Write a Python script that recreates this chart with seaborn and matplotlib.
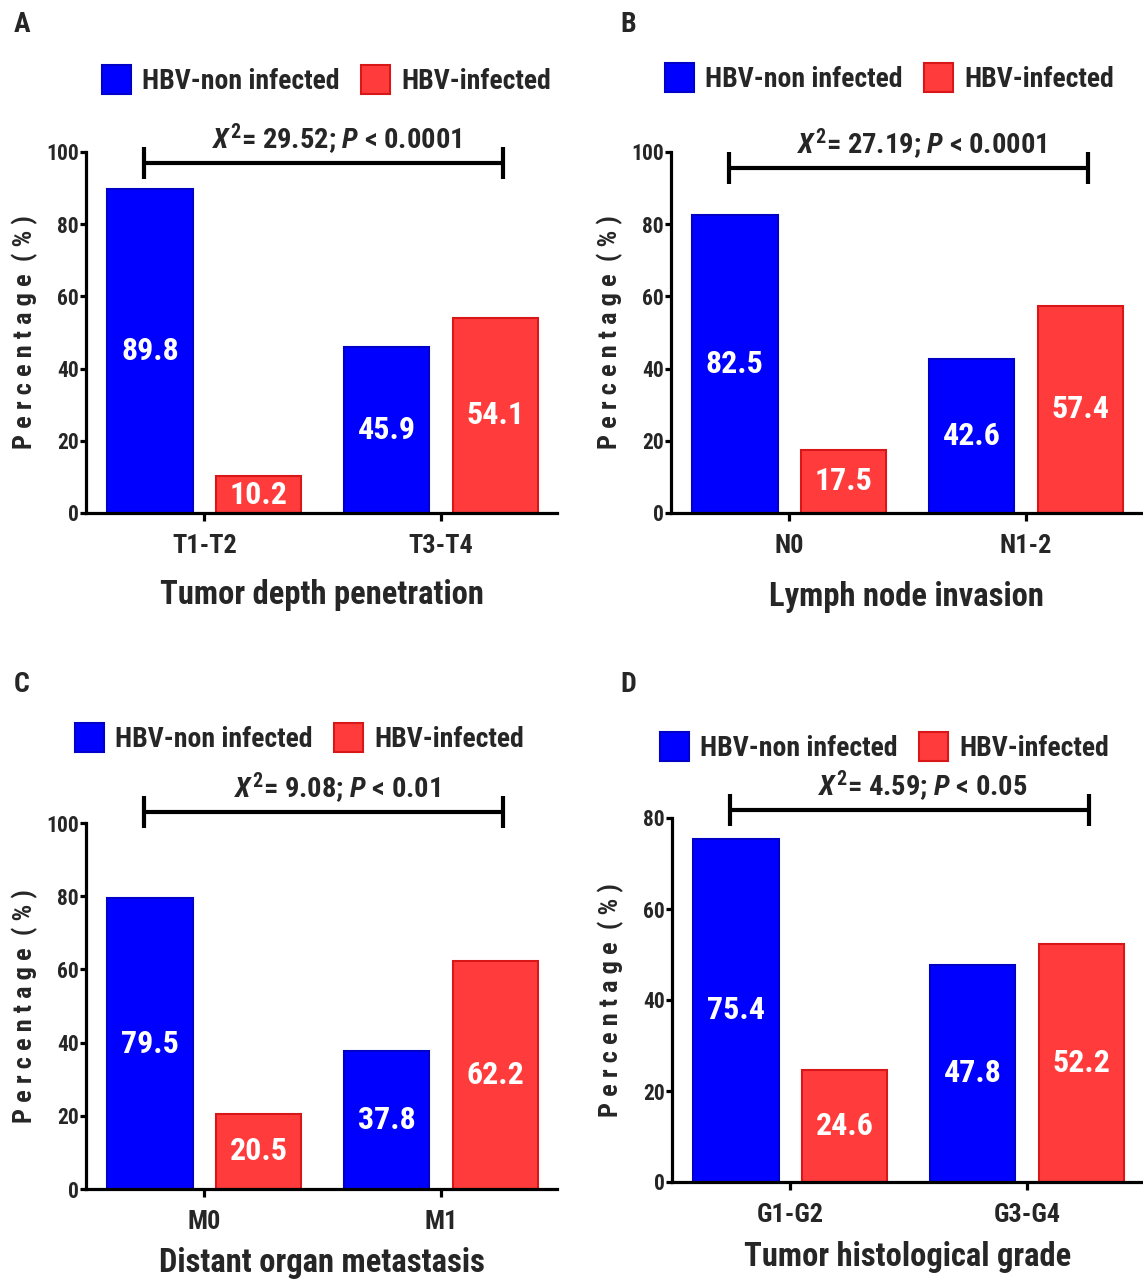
import pandas as pd
import seaborn as sns
import matplotlib.pyplot as plt
from matplotlib import font_manager

# ---- data ----
groups = ["HBV-non infected", "HBV-infected"]

cats_a = ["T1-T2", "T3-T4"]
non_a = [89.8, 45.9]
inf_a = [10.2, 54.1]

cats_b = ["N0", "N1-2"]
non_b = [82.5, 42.6]
inf_b = [17.5, 57.4]

cats_c = ["M0", "M1"]
non_c = [79.5, 37.8]
inf_c = [20.5, 62.2]

cats_d = ["G1-G2", "G3-G4"]
non_d = [75.4, 47.8]
inf_d = [24.6, 52.2]

chi_values = ["29.52", "27.19", "9.08", "4.59"]
p_values = ["0.0001", "0.0001", "0.01", "0.05"]
xtitles = ["Tumor depth penetration", "Lymph node invasion",
           "Distant organ metastasis", "Tumor histological grade"]
letters = ["A", "B", "C", "D"]
ymax = [100, 100, 100, 80]

BLUE = "#0000FF"
RED = "#FF3B3B"

sns.set_theme(style="ticks")

# the original uses a narrow bold sans; use one if installed, else shrink Liberation Sans
names = {f.name for f in font_manager.fontManager.ttflist}
FONT, K = "Liberation Sans", 0.8
for cand in ["Liberation Sans Narrow", "Roboto Condensed", "Open Sans Condensed"]:
    if cand in names:
        FONT, K = cand, 1.0
        break
plt.rcParams["font.family"] = [FONT, "DejaVu Sans"]
plt.rcParams["font.weight"] = "bold"
plt.rcParams["mathtext.fontset"] = "custom"
plt.rcParams["mathtext.rm"] = f"{FONT}:bold"
plt.rcParams["mathtext.it"] = f"{FONT}:italic:bold"

W, H = 1143, 1283
fig = plt.figure(figsize=(W / 100, H / 100), dpi=100)


def px_axes(left, right, top, bottom):
    return fig.add_axes([left / W, 1 - bottom / H, (right - left) / W, (bottom - top) / H])


# panel layout in pixels: (left, right, top, bottom)
boxes = [(86, 557, 152, 513), (671, 1142, 152, 513),
         (86, 557, 823, 1189), (672, 1143, 818, 1182)]
legend_xy = [(102, 80), (665, 78), (75, 738), (660, 747)]
bracket_y = [97, 95.6, 103, 81.8]
xlabel_y = [-0.227, -0.233, -0.202, -0.206]
letter_xy = [(22, 24), (628, 24), (22, 684), (628, 684)]

panels = [(cats_a, non_a, inf_a), (cats_b, non_b, inf_b),
          (cats_c, non_c, inf_c), (cats_d, non_d, inf_d)]

for i, (cats, non, inf) in enumerate(panels):
    ax = px_axes(*boxes[i])
    df = pd.DataFrame({
        "cat": cats * 2,
        "group": [groups[0]] * 2 + [groups[1]] * 2,
        "pct": non + inf,
    })
    sns.barplot(data=df, x="cat", y="pct", hue="group", hue_order=groups,
                palette=[BLUE, RED], width=0.92, gap=0.217, saturation=1,
                edgecolor="none", errorbar=None, ax=ax)
    for cont, ec in zip(ax.containers, ["#0000C8", "#D81818"]):
        for bar in cont:
            bar.set_edgecolor(ec)
            bar.set_linewidth(1.5)
            h = bar.get_height()
            ax.text(bar.get_x() + bar.get_width() / 2, h / 2, f"{h:.1f}",
                    ha="center", va="center", color="white", fontsize=23 * K,
                    fontweight="bold")

    ax.get_legend().remove()
    ax.set_xlim(-0.5, 1.49)
    ax.set_ylim(0, ymax[i])
    ax.set_yticks(range(0, ymax[i] + 1, 20))
    sns.despine(ax=ax)
    for s in ["left", "bottom"]:
        ax.spines[s].set_linewidth(2.3)
        ax.spines[s].set_color("black")
    ax.tick_params(axis="x", length=6, width=2.3, pad=9, labelsize=19 * K, color="black")
    ax.tick_params(axis="y", length=4, width=2.3, pad=1, labelsize=15.5 * K, color="black")

    ax.set_xlabel(xtitles[i], fontsize=23.5 * K, fontweight="bold")
    ax.xaxis.label.set_va("center")
    ax.xaxis.set_label_coords(0.5, xlabel_y[i])
    ax.set_ylabel("P e r c e n t a g e  ( % )", fontsize=19 * K, fontweight="bold")
    ax.yaxis.label.set_va("center")
    ax.yaxis.set_label_coords(-0.13, 0.5)

    # chi-square bracket
    by = bracket_y[i]
    ax.plot([-0.257, 1.26], [by, by], color="black", lw=3, marker="|",
            markersize=23, mew=3, clip_on=False)
    ax.annotate(rf"$\mathit{{X}}^{{2}}$= {chi_values[i]}; $\mathit{{P}}$ < {p_values[i]}",
                xy=(0.56, by), xytext=(0, 4), textcoords="offset points",
                ha="center", va="bottom", fontsize=20.5 * K, fontweight="bold",
                annotation_clip=False)

    handles = [plt.Rectangle((0, 0), 1, 1, facecolor=c, edgecolor=e, lw=1.5)
               for c, e in zip([BLUE, RED], ["#0000C8", "#D81818"])]
    lx, ly = legend_xy[i]
    fig.legend(handles, groups, loc="center left",
               bbox_to_anchor=(lx / W, 1 - ly / H), ncol=2, frameon=False,
               fontsize=20 * K, handlelength=1.05, handleheight=1.2,
               handletextpad=0.4, columnspacing=0.75, borderpad=0,
               borderaxespad=0)

    lx, ly = letter_xy[i]
    fig.text(lx / W, 1 - ly / H, letters[i], fontsize=20 * K, fontweight="bold",
             ha="center", va="center")

fig.savefig("out.png", dpi=100)
